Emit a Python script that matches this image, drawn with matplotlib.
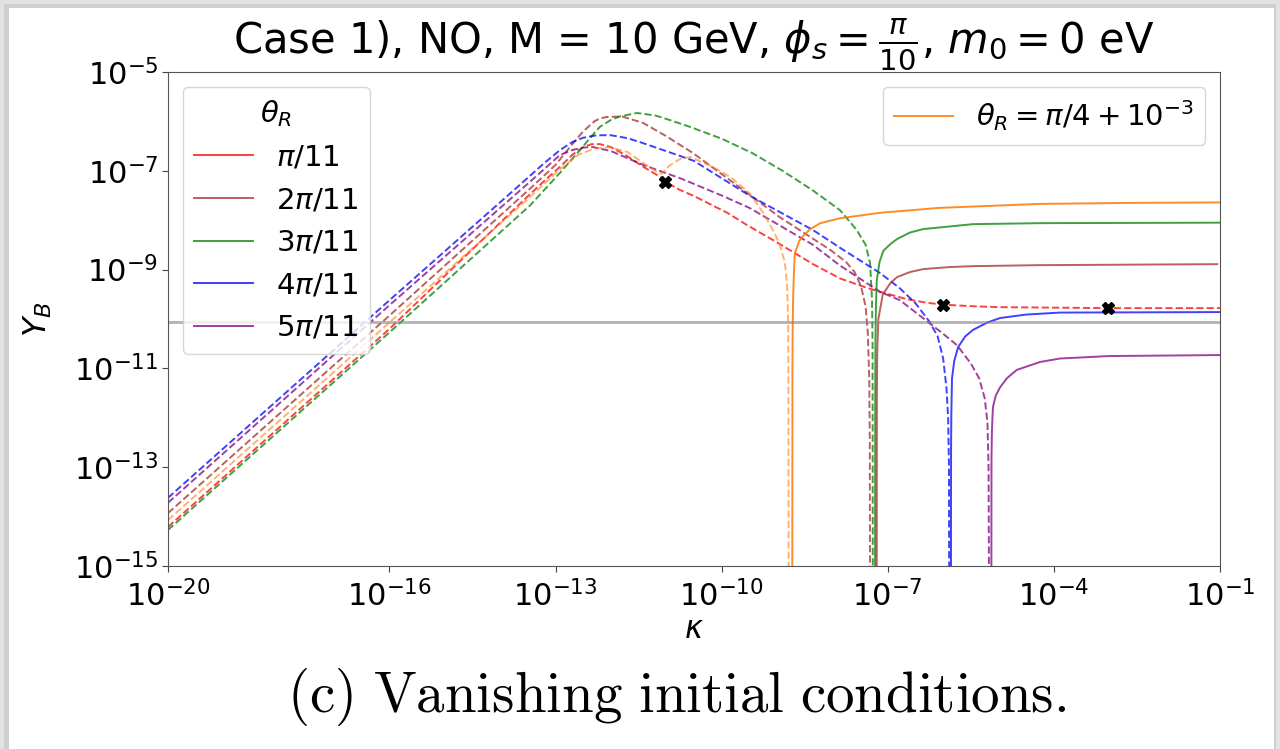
import numpy as np
import matplotlib
matplotlib.use('Agg')
import matplotlib.pyplot as plt
from matplotlib.patches import Rectangle

# values, stored as log10(kappa), log10(Y_B)
red_dash_x = [-20, -16, -13.6, -13.2, -12.9, -12.7, -12.5, -12.35, -12.2, -12.0, -11.71, -11.4,
              -11.1, -11.02, -10.75, -10.52, -9.9, -9.54, -9.0, -8.35, -7.86, -7.4, -7.14, -6.65,
              -6.3, -6.0, -5.5, -5.0, -3.0, -1.0]
red_dash_y = [-14.21, -10.2, -7.62, -7.2, -6.9, -6.68, -6.52, -6.46, -6.46, -6.52, -6.7, -6.93,
              -7.13, -7.22, -7.39, -7.5, -7.85, -8.1, -8.45, -8.89, -9.18, -9.36, -9.45, -9.6,
              -9.67, -9.71, -9.74, -9.76, -9.78, -9.78]

brown_dash_x = [-20, -16, -13.46, -13.0, -12.69, -12.5, -12.3, -12.2, -12.07, -11.8, -11.42, -11.0,
                -10.52, -9.85, -8.95, -8.04, -7.75, -7.6, -7.48, -7.4, -7.36, -7.335, -7.325, -7.32]
brown_dash_y = [-13.93, -9.93, -7.36, -6.88, -6.45, -6.2, -6.0, -5.94, -5.91, -5.9, -6.03, -6.3,
                -6.64, -7.19, -7.94, -8.6, -8.85, -9.05, -9.35, -9.75, -10.3, -11.2, -12.5, -16]
brown_sol_x = [-7.2, -7.197, -7.19, -7.17, -7.09, -6.95, -6.83, -6.6, -6.36, -5.9, -5.46, -4.25, -1.05]
brown_sol_y = [-16, -11.5, -10.6, -10.0, -9.5, -9.27, -9.15, -9.05, -8.99, -8.95, -8.93, -8.91, -8.89]

green_dash_x = [-20, -16, -13.46, -12.92, -12.56, -12.35, -12.2, -12.0, -11.84, -11.53, -11.2,
                -11.0, -10.6, -10.0, -9.45, -8.9, -8.35, -7.86, -7.56, -7.4, -7.32, -7.285,
                -7.275, -7.27]
green_dash_y = [-14.27, -10.27, -7.7, -7.04, -6.58, -6.3, -6.11, -5.97, -5.9, -5.83, -5.88,
                -5.95, -6.1, -6.35, -6.64, -7.0, -7.4, -7.8, -8.2, -8.5, -8.87, -9.6,
                -10.5, -16]
green_sol_x = [-7.23, -7.227, -7.222, -7.215, -7.2, -7.15, -7.08, -6.95, -6.83, -6.6, -6.36, -5.46, -4.25, -1.0]
green_sol_y = [-16, -11.5, -10.4, -9.8, -9.23, -8.85, -8.62, -8.48, -8.38, -8.25, -8.18, -8.08, -8.06, -8.05]

blue_dash_x = [-20, -16, -13.46, -13.2, -12.92, -12.7, -12.5, -12.25, -12.0, -11.7, -11.42,
               -10.75, -10.5, -9.5, -8.35, -7.86, -7.14, -6.78, -6.5, -6.25, -6.1, -6.0, -5.94,
               -5.91, -5.895, -5.89]
blue_dash_y = [-13.62, -9.62, -7.1, -6.84, -6.58, -6.42, -6.33, -6.28, -6.28, -6.34, -6.44,
               -6.7, -6.8, -7.5, -8.2, -8.56, -9.07, -9.38, -9.68, -10.05, -10.35, -10.8, -11.4,
               -12.0, -13.0, -16]
blue_sol_x = [-5.86, -5.857, -5.852, -5.84, -5.8, -5.73, -5.6, -5.46, -5.2, -4.97, -4.5, -3.89, -1.0]
blue_sol_y = [-16, -12.6, -11.9, -11.2, -10.85, -10.57, -10.35, -10.22, -10.07, -9.98, -9.91, -9.87, -9.86]

purple_dash_x = [-20, -16, -13.46, -12.92, -12.7, -12.5, -12.32, -12.0, -11.42, -10.75, -10.0, -9.5,
                 -8.35, -7.86, -7.14, -6.78, -6.4, -6.0, -5.75, -5.5, -5.35, -5.25, -5.2, -5.18, -5.17]
purple_dash_y = [-13.72, -9.72, -7.22, -6.68, -6.58, -6.53, -6.52, -6.6, -6.88, -7.15, -7.5, -7.75,
                 -8.5, -8.92, -9.45, -9.62, -9.95, -10.3, -10.53, -10.9, -11.2, -11.6, -12.1, -13.0, -16]
purple_sol_x = [-5.13, -5.127, -5.12, -5.11, -5.1, -5.05, -4.97, -4.85, -4.67, -4.25, -3.89, -3.0, -1.0]
purple_sol_y = [-16, -12.8, -12.3, -12.0, -11.78, -11.55, -11.38, -11.2, -11.03, -10.87, -10.8, -10.75, -10.73]

orange_dash_x = [-20, -16, -13.46, -13.0, -12.6, -12.3, -12.02, -11.7, -11.42, -11.2, -11.08,
                 -10.95, -10.75, -10.57, -10.2, -9.85, -9.5, -9.25, -9.05, -8.95, -8.86, -8.82,
                 -8.8, -8.795, -8.79]
orange_dash_y = [-14.07, -10.07, -7.53, -7.05, -6.68, -6.55, -6.52, -6.62, -6.84, -7.0, -7.06,
                 -6.9, -6.76, -6.72, -6.9, -7.12, -7.45, -7.85, -8.25, -8.5, -8.85, -9.3,
                 -10.0, -11.0, -16]
orange_sol_x = [-8.725, -8.722, -8.718, -8.71, -8.7, -8.68, -8.6, -8.53, -8.4, -8.22, -7.86, -7.14,
                -6.06, -4.25, -2.68, -1.0]
orange_sol_y = [-16, -11.0, -10.2, -9.6, -9.2, -8.68, -8.42, -8.32, -8.18, -8.06, -7.96, -7.85,
                -7.75, -7.67, -7.65, -7.64]

marker_x = [-11.02, -6.0, -3.02]
marker_y = [-7.23, -9.72, -9.78]

Y_obs = 8.7e-11

plt.rcParams['font.family'] = ['DejaVu Sans']
plt.rcParams['mathtext.fontset'] = 'dejavusans'

fig = plt.figure(figsize=(12.8, 7.49), dpi=100)
fig.patch.set_facecolor('#e2e2e2')
fig.patches.append(Rectangle((4 / 1280, 0), 1272 / 1280, 745 / 749, transform=fig.transFigure,
                             facecolor='#cfcfcf', edgecolor='none', zorder=-3))
fig.patches.append(Rectangle((9 / 1280, 0), 1265 / 1280, 741 / 749, transform=fig.transFigure,
                             facecolor='white', edgecolor='none', zorder=-2))

ax = fig.add_axes([168 / 1280, 183 / 749, 1052 / 1280, 494 / 749])


def p(v):
    return np.power(10.0, np.array(v))


a = 0.75
lw = 1.4
ax.plot(p(red_dash_x), p(red_dash_y), '--', color='red', alpha=a, lw=lw)
ax.plot(p(brown_dash_x), p(brown_dash_y), '--', color='brown', alpha=a, lw=lw)
ax.plot(p(green_dash_x), p(green_dash_y), '--', color='green', alpha=a, lw=lw)
ax.plot(p(blue_dash_x), p(blue_dash_y), '--', color='blue', alpha=a, lw=lw)
ax.plot(p(purple_dash_x), p(purple_dash_y), '--', color='purple', alpha=a, lw=lw)
ax.plot(p(orange_dash_x), p(orange_dash_y), '--', color='C1', alpha=0.6, lw=lw)

h_red, = ax.plot([], [], '-', color='red', alpha=a, lw=lw, label=r'$\pi/11$')
h_brown, = ax.plot(p(brown_sol_x), p(brown_sol_y), '-', color='brown', alpha=a, lw=lw, label=r'$2\pi/11$')
h_green, = ax.plot(p(green_sol_x), p(green_sol_y), '-', color='green', alpha=a, lw=lw, label=r'$3\pi/11$')
h_blue, = ax.plot(p(blue_sol_x), p(blue_sol_y), '-', color='blue', alpha=a, lw=lw, label=r'$4\pi/11$')
h_purple, = ax.plot(p(purple_sol_x), p(purple_sol_y), '-', color='purple', alpha=a, lw=lw, label=r'$5\pi/11$')
h_orange, = ax.plot(p(orange_sol_x), p(orange_sol_y), '-', color='C1', alpha=0.9, lw=lw,
                    label=r'$\theta_R = \pi/4 + 10^{-3}$')

ax.axhline(Y_obs, color='gray', alpha=0.6, lw=2)
ax.plot(p(marker_x), p(marker_y), 'X', color='black', ms=9, ls='none')

ax.set_xscale('log')
ax.set_yscale('log')
ax.set_xlim(1e-20, 1e-1)
ax.set_ylim(1e-15, 1e-5)
ax.set_xticks([1e-20, 1e-16, 1e-13, 1e-10, 1e-7, 1e-4, 1e-1])
ax.set_yticks([1e-15, 1e-13, 1e-11, 1e-9, 1e-7, 1e-5])
ax.minorticks_off()
ax.tick_params(labelsize=22, length=4, color='#444444')
ax.tick_params(axis='x', pad=6)
ax.tick_params(axis='y', pad=3)
for s in ax.spines.values():
    s.set_color('#555555')

ax.set_xlabel(r'$\kappa$', fontsize=22, labelpad=2)
ax.set_ylabel(r'$Y_B$', fontsize=23, labelpad=14)
ax.set_title(r'Case 1), NO, M = 10 GeV, $\phi_s = \frac{\pi}{10}$, $m_0 = 0$ eV', fontsize=30, pad=5)

leg1 = ax.legend(handles=[h_red, h_brown, h_green, h_blue, h_purple], loc='upper left',
                 title=r'$\theta_R$', fontsize=21, title_fontsize=21, handlelength=2.0,
                 borderaxespad=0.5)
ax.add_artist(leg1)
ax.legend(handles=[h_orange], loc='upper right', fontsize=21, handlelength=2.0, borderaxespad=0.5)

fig.text(0.529, 0.069, r'$\mathrm{(c)\ Vanishing\ initial\ conditions.}$', fontsize=41,
         ha='center', va='center', math_fontfamily='cm')

fig.savefig('out.png', dpi=100, facecolor=fig.get_facecolor())
